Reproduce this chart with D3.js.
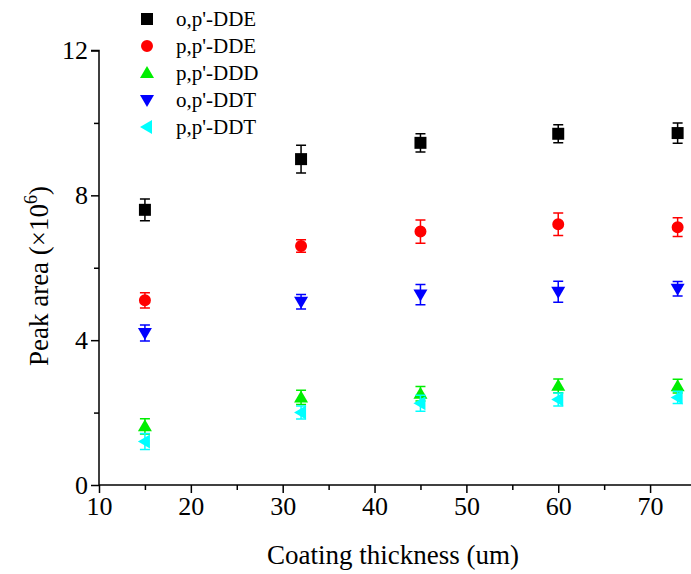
<!DOCTYPE html>
<html>
<head>
<meta charset="utf-8">
<script src="https://cdn.jsdelivr.net/npm/d3@7"></script>
<style>
  body { margin: 0; background: #fff; }
  svg { display: block; font-family: "Liberation Serif", "Times New Roman", serif; }
</style>
</head>
<body>
<div id="chart"></div>
<script>
// ===== DATA =====
const thickness = [15, 32, 45, 60, 73];
const seriesNames = ["o,p'-DDE", "p,p'-DDE", "p,p'-DDD", "o,p'-DDT", "p,p'-DDT"];
const opDDE = [7.6, 9.0, 9.45, 9.7, 9.72];
const opDDEErr = [0.3, 0.38, 0.25, 0.25, 0.28];
const ppDDE = [5.1, 6.6, 7.0, 7.2, 7.12];
const ppDDEErr = [0.21, 0.17, 0.32, 0.31, 0.26];
const ppDDD = [1.62, 2.42, 2.52, 2.74, 2.73];
const ppDDDErr = [0.21, 0.2, 0.2, 0.19, 0.19];
const opDDT = [4.2, 5.06, 5.26, 5.34, 5.42];
const opDDTErr = [0.22, 0.2, 0.28, 0.29, 0.2];
const ppDDT = [1.2, 2.0, 2.26, 2.36, 2.42];
const ppDDTErr = [0.22, 0.18, 0.22, 0.18, 0.17];
const xTicks = [10, 20, 30, 40, 50, 60, 70];
const yTicks = [0, 4, 8, 12];

// ===== SIZE =====
const width = 691;
const height = 574;

d3.select("#chart").selectAll("*").remove();

const svg = d3.select("#chart")
  .append("svg")
  .attr("width", width)
  .attr("height", height);

const x = d3.scaleLinear().domain([10, 75]).range([99, 696]);
const y = d3.scaleLinear().domain([0, 12]).range([485, 50.5]);

const colors = ["#000000", "#ff0000", "#00ee00", "#0000ff", "#00ffff"];
const values = [opDDE, ppDDE, ppDDD, opDDT, ppDDT];
const errors = [opDDEErr, ppDDEErr, ppDDDErr, opDDTErr, ppDDTErr];
const shapes = ["square", "circle", "up", "down", "left"];

function markerPath(shape){
  if(shape === "square") return "M-6,-6H6V6H-6Z";
  if(shape === "circle") return d3.symbol(d3.symbolCircle, 113)();
  if(shape === "up") return "M0,-7L7,5H-7Z";
  if(shape === "down") return "M0,7L7,-5H-7Z";
  return "M-7,0L5,-7V7Z";
}

// ===== AXES =====
const xAxis = svg.append("g")
  .attr("transform", `translate(0,${y(0)})`)
  .call(d3.axisBottom(x).tickValues(xTicks).tickSize(8).tickPadding(4).tickFormat(d3.format("d")));
svg.append("g")
  .attr("transform", `translate(0,${y(0)})`)
  .call(d3.axisBottom(x).tickValues([15, 25, 35, 45, 55, 65, 75]).tickSize(5).tickFormat(""))
  .select(".domain").remove();

const yAxis = svg.append("g")
  .attr("transform", `translate(${x(10)},0)`)
  .call(d3.axisLeft(y).tickValues(yTicks).tickSize(8).tickPadding(3).tickFormat(d3.format("d")));
svg.append("g")
  .attr("transform", `translate(${x(10)},0)`)
  .call(d3.axisLeft(y).tickValues([2, 6, 10]).tickSize(5).tickFormat(""))
  .select(".domain").remove();

svg.selectAll(".domain").attr("stroke-width", 1.5);
svg.selectAll(".tick line").attr("stroke-width", 1.5);
svg.selectAll(".tick text")
  .style("font-size", "26px")
  .style("font-family", "Liberation Serif")
  .attr("fill", "#000");
xAxis.select(".domain").attr("d", `M${x(10)},0H${width}`);
yAxis.select(".domain").attr("d", `M0,${y(0)}V${y(12)}H-8`);

// axis titles
svg.append("text")
  .attr("x", 393)
  .attr("y", 564)
  .attr("text-anchor", "middle")
  .style("font-size", "27px")
  .text("Coating thickness (um)");

const yt = svg.append("text")
  .attr("transform", `translate(48,276) rotate(-90)`)
  .attr("text-anchor", "middle")
  .style("font-size", "27px");
yt.append("tspan").text("Peak area (×10");
yt.append("tspan").attr("dy", -11).style("font-size", "18px").text("6");
yt.append("tspan").attr("dy", 11).text(")");

// ===== DATA MARKS =====
values.forEach((vals, s) => {
  const g = svg.append("g");
  const pts = thickness.map((t, i) => ({ t, v: vals[i], e: errors[s][i] }));

  g.selectAll("path.err")
    .data(pts)
    .join("path")
    .attr("class", "err")
    .attr("fill", "none")
    .attr("stroke", colors[s])
    .attr("stroke-width", 1.5)
    .attr("d", d => {
      const cx = x(d.t), y1 = y(d.v + d.e), y2 = y(d.v - d.e);
      return `M${cx - 5},${y1}H${cx + 5}M${cx},${y1}V${y2}M${cx - 5},${y2}H${cx + 5}`;
    });

  g.selectAll("path.mark")
    .data(pts)
    .join("path")
    .attr("class", "mark")
    .attr("fill", colors[s])
    .attr("transform", d => `translate(${x(d.t)},${y(d.v)})`)
    .attr("d", markerPath(shapes[s]));
});

// ===== LEGEND =====
const legend = svg.selectAll("g.legend")
  .data(seriesNames)
  .join("g")
  .attr("class", "legend")
  .attr("transform", (d, i) => `translate(147,${19 + i * 27})`);

legend.append("path")
  .attr("fill", (d, i) => colors[i])
  .attr("d", (d, i) => markerPath(shapes[i]));

legend.append("text")
  .attr("x", 29)
  .attr("y", 7)
  .style("font-size", "21px")
  .text(d => d);
</script>
</body>
</html>
